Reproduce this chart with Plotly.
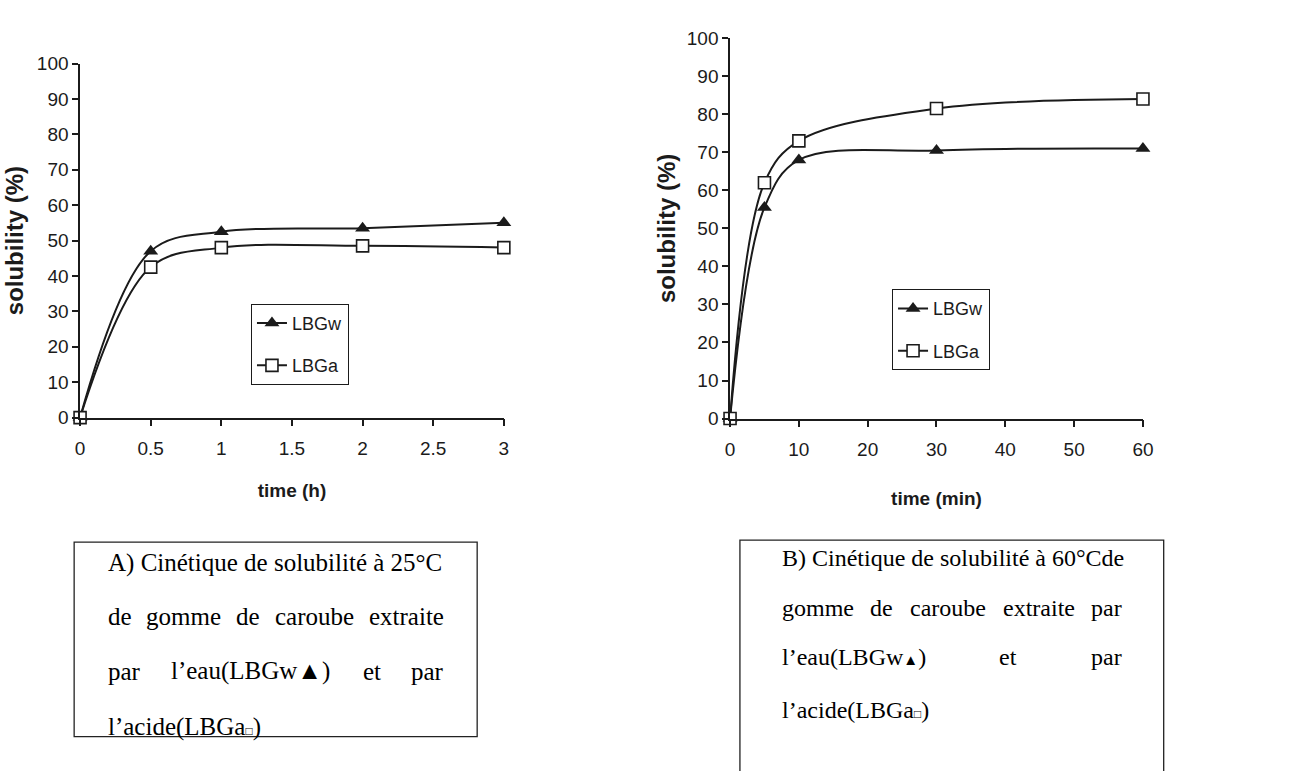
import plotly.graph_objects as go

W, H = 1312, 771

# ---------------- data ----------------
time_h = [0, 0.5, 1, 2, 3]
lbgw_25 = [0, 47, 52.5, 53.5, 55]
lbga_25 = [0, 42.5, 48, 48.5, 48]

time_min = [0, 5, 10, 30, 60]
lbgw_60 = [0, 55.5, 68, 70.5, 71]
lbga_60 = [0, 62, 73, 81.5, 84]

x_ticks_h = [0, 0.5, 1, 1.5, 2, 2.5, 3]
x_ticks_h_labels = ["0", "0.5", "1", "1.5", "2", "2.5", "3"]
x_ticks_min = [0, 10, 20, 30, 40, 50, 60]
y_ticks = [0, 10, 20, 30, 40, 50, 60, 70, 80, 90, 100]

series_names = ["LBGw", "LBGa"]
y_title = "solubility (%)"
x_title_a = "time (h)"
x_title_b = "time (min)"

# ---------------- helpers (page pixels -> paper coords) ----------------
def X(px):
    return px / W

def Y(py):
    return 1 - py / H

SANS = "Liberation Sans, Arial, sans-serif"
SERIF = "Liberation Serif, Times New Roman, serif"
INK = "#1b1b1b"

fig = go.Figure()

def add_pair(x, yw, ya, xa, ya_name, legend):
    fig.add_trace(go.Scatter(
        x=x, y=yw, name=series_names[0], mode="lines+markers",
        line=dict(color=INK, width=2, shape="spline", smoothing=1.0),
        marker=dict(symbol="triangle-up", size=13, color=INK),
        xaxis=xa, yaxis=ya_name, legend=legend, legendgroup=legend + "w",
        cliponaxis=False))
    fig.add_trace(go.Scatter(
        x=x, y=ya, name=series_names[1], mode="lines+markers",
        line=dict(color=INK, width=2, shape="spline", smoothing=1.0),
        marker=dict(symbol="square", size=12, color="white",
                    line=dict(color=INK, width=1.6)),
        xaxis=xa, yaxis=ya_name, legend=legend, legendgroup=legend + "a",
        cliponaxis=False))

add_pair(time_h, lbgw_25, lbga_25, "x", "y", "legend")
add_pair(time_min, lbgw_60, lbga_60, "x2", "y2", "legend2")

axis_common = dict(
    showgrid=False, zeroline=False, showline=True, linecolor=INK, linewidth=1.5,
    ticks="outside", tickcolor=INK, tickwidth=1.5,
    tickfont=dict(family=SANS, size=19, color=INK),
)
xtitle_font = dict(family=SANS, size=19, color=INK)
ytitle_font = dict(family=SANS, size=24, color=INK)

fig.update_layout(
    width=W, height=H,
    margin=dict(l=0, r=0, t=0, b=0),
    paper_bgcolor="white", plot_bgcolor="white",
    showlegend=True,
    xaxis=dict(domain=[X(76), X(505)], range=[0, 3], tickvals=x_ticks_h,
               ticktext=x_ticks_h_labels, ticklen=7, anchor="y", ticklabelstandoff=6,
               title=dict(text="<b>" + x_title_a + "</b>", font=xtitle_font, standoff=26),
               **axis_common),
    yaxis=dict(domain=[Y(419), Y(55)], range=[0, 100], tickvals=y_ticks, ticklen=6, anchor="x",
               title=dict(text="<b>" + y_title + "</b>", font=ytitle_font, standoff=6),
               **axis_common),
    xaxis2=dict(domain=[X(734), X(1152)], range=[0, 60], tickvals=x_ticks_min, ticklen=7,
                anchor="y2", ticklabelstandoff=6,
                title=dict(text="<b>" + x_title_b + "</b>", font=xtitle_font, standoff=33),
                **axis_common),
    yaxis2=dict(domain=[Y(420), Y(29)], range=[0, 100], tickvals=y_ticks, ticklen=6, anchor="x2",
                title=dict(text="<b>" + y_title + "</b>", font=ytitle_font, standoff=4),
                **axis_common),
    legend=dict(x=X(249), y=Y(302), xanchor="left", yanchor="top",
                bordercolor=INK, borderwidth=1, bgcolor="white",
                font=dict(family=SANS, size=18, color=INK), tracegroupgap=16),
    legend2=dict(x=X(898), y=Y(287), xanchor="left", yanchor="top",
                 bordercolor=INK, borderwidth=1, bgcolor="white",
                 font=dict(family=SANS, size=18, color=INK), tracegroupgap=16),
)

# ---------------- caption boxes ----------------
fig.add_shape(type="rect", xref="paper", yref="paper",
              x0=X(70), x1=X(478), y0=Y(747), y1=Y(547),
              line=dict(color="#222", width=1.3), fillcolor="rgba(0,0,0,0)")
fig.add_shape(type="rect", xref="paper", yref="paper",
              x0=X(744), x1=X(1173), y0=Y(800), y1=Y(545),
              line=dict(color="#222", width=1.3), fillcolor="rgba(0,0,0,0)")

def word(text, px, py, anchor, size):
    fig.add_annotation(text=text, x=X(px), y=Y(py), xref="paper", yref="paper",
                       xanchor=anchor, yanchor="middle", showarrow=False, borderpad=0,
                       font=dict(family=SERIF, size=size, color="black"))

sq = '<span style="font-size:12px">□</span>'

# Caption A (justified lines placed word by word)
sa = 25
word("A) Cinétique de solubilité à 25°C", 103, 568, "left", sa)
for t, px, a in [("de", 103, "left"), ("gomme", 180.5, "center"), ("de", 246.5, "center"),
                 ("caroube", 313, "center"), ("extraite", 445, "right")]:
    word(t, px, 623, a, sa)
for t, px, a in [("par", 103, "left"), ("l’eau(LBGw▲)", 249, "center"),
                 ("et", 371.5, "center"), ("par", 445, "right")]:
    word(t, px, 680, a, sa)
word("l’acide(LBGa" + sq + ")", 103, 737, "left", sa)

# Caption B
sb = 24
word("B) Cinétique de solubilité à 60°Cde", 786, 563, "left", sb)
for t, px, a in [("gomme", 786, "left"), ("de", 887, "center"), ("caroube", 954.5, "center"),
                 ("extraite", 1047, "center"), ("par", 1132, "right")]:
    word(t, px, 615, a, sb)
for t, px, a in [("l’eau(LBGw" + '<span style="font-size:15px">▲</span>' + ")", 786, "left"),
                 ("et", 1015, "center"), ("par", 1132, "right")]:
    word(t, px, 665, a, sb)
word("l’acide(LBGa" + sq + ")", 786, 720, "left", sb)

fig.write_html("out.html")
